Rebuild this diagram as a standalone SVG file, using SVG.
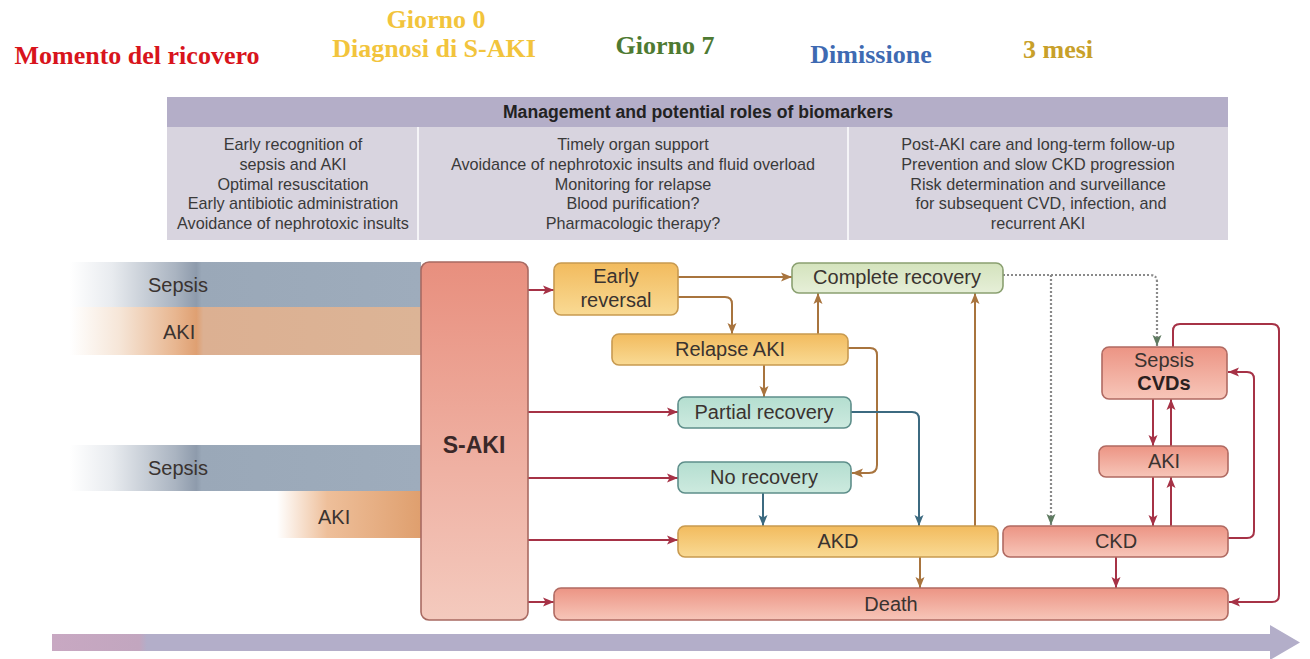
<svg xmlns="http://www.w3.org/2000/svg" width="1310" height="659" viewBox="0 0 1310 659">
<style>
.title{font-family:"Liberation Serif","Times New Roman",serif;font-weight:bold;font-size:26px;text-anchor:middle}
.hdr{font-family:"Liberation Sans",Arial,sans-serif;font-weight:bold;font-size:17.6px;fill:#222;text-anchor:middle}
.body{font-family:"Liberation Sans",Arial,sans-serif;font-size:16.2px;fill:#3a3a3a;text-anchor:middle}
.lbl{font-family:"Liberation Sans",Arial,sans-serif;font-size:20px;fill:#3a3330;text-anchor:middle}
.bold{font-weight:bold}
.yel{fill:url(#gYel);stroke:#c89a50;stroke-width:1.6}
.grn{fill:url(#gGrn);stroke:#8aa070;stroke-width:1.6}
.tea{fill:url(#gTea);stroke:#5e8e8a;stroke-width:1.6}
.red{fill:url(#gRed);stroke:#b06a62;stroke-width:1.6}
.cr{fill:none;stroke:#a63246;stroke-width:2}
.cb{fill:none;stroke:#a8743e;stroke-width:2}
.ct{fill:none;stroke:#3c6a80;stroke-width:2}
.cd{fill:none;stroke:#8a8a8a;stroke-width:2.2;stroke-dasharray:2 2}
</style>
<defs>
<linearGradient id="gYel" x1="0" y1="0" x2="0" y2="1"><stop offset="0" stop-color="#f2bb5e"/><stop offset="1" stop-color="#f9da94"/></linearGradient>
<linearGradient id="gGrn" x1="0" y1="0" x2="0" y2="1"><stop offset="0" stop-color="#d4e3bd"/><stop offset="1" stop-color="#e6efd8"/></linearGradient>
<linearGradient id="gTea" x1="0" y1="0" x2="0" y2="1"><stop offset="0" stop-color="#b4ded0"/><stop offset="1" stop-color="#cdeadf"/></linearGradient>
<linearGradient id="gRed" x1="0" y1="0" x2="0" y2="1"><stop offset="0" stop-color="#ec9484"/><stop offset="1" stop-color="#f7c6b9"/></linearGradient>
<linearGradient id="gSaki" x1="0" y1="0" x2="0" y2="1"><stop offset="0" stop-color="#e88f7e"/><stop offset="1" stop-color="#f4cabe"/></linearGradient>
<linearGradient id="gSep" gradientUnits="userSpaceOnUse" x1="70" y1="0" x2="421" y2="0"><stop offset="0" stop-color="#ffffff"/><stop offset="0.12" stop-color="#e8ebef"/><stop offset="0.3" stop-color="#aab4c1"/><stop offset="0.36" stop-color="#8e9bac"/><stop offset="0.375" stop-color="#9aa8b8"/><stop offset="1" stop-color="#9eacbc"/></linearGradient>
<linearGradient id="gAki" gradientUnits="userSpaceOnUse" x1="70" y1="0" x2="421" y2="0"><stop offset="0" stop-color="#ffffff"/><stop offset="0.14" stop-color="#f6e6d8"/><stop offset="0.3" stop-color="#e8b690"/><stop offset="0.36" stop-color="#dfa072"/><stop offset="0.38" stop-color="#dcb092"/><stop offset="1" stop-color="#dcb496"/></linearGradient>
<linearGradient id="gAki2" gradientUnits="userSpaceOnUse" x1="277" y1="0" x2="421" y2="0"><stop offset="0" stop-color="#ffffff"/><stop offset="0.35" stop-color="#eebf9a"/><stop offset="1" stop-color="#df9f6e"/></linearGradient>
<linearGradient id="gTime" gradientUnits="userSpaceOnUse" x1="52" y1="0" x2="1300" y2="0"><stop offset="0" stop-color="#c8a8c2"/><stop offset="0.07" stop-color="#c2a6bf"/><stop offset="0.076" stop-color="#b3aec9"/><stop offset="1" stop-color="#b3aec9"/></linearGradient>
<marker id="aR" markerUnits="userSpaceOnUse" markerWidth="12" markerHeight="10" refX="11" refY="5" orient="auto"><path d="M0,0.5 L11,5 L0,9.5 L2.5,5 z" fill="#a63246"/></marker>
<marker id="aB" markerUnits="userSpaceOnUse" markerWidth="12" markerHeight="10" refX="11" refY="5" orient="auto"><path d="M0,0.5 L11,5 L0,9.5 L2.5,5 z" fill="#a8743e"/></marker>
<marker id="aT" markerUnits="userSpaceOnUse" markerWidth="12" markerHeight="10" refX="11" refY="5" orient="auto"><path d="M0,0.5 L11,5 L0,9.5 L2.5,5 z" fill="#3c6a80"/></marker>
<marker id="aG" markerUnits="userSpaceOnUse" markerWidth="12" markerHeight="10" refX="11" refY="5" orient="auto"><path d="M0,0.5 L11,5 L0,9.5 L2.5,5 z" fill="#5e7a60"/></marker>
</defs>
<rect x="0" y="0" width="1310" height="659" fill="#ffffff"/>

<g id="timeline-titles">
<text class="title" x="137" y="64" fill="#d8141c">Momento del ricovero</text>
<text class="title" x="436" y="28" fill="#f2c43c">Giorno 0</text>
<text class="title" x="434" y="57" fill="#f2c43c">Diagnosi di S-AKI</text>
<text class="title" x="665" y="54" fill="#4e7a32">Giorno 7</text>
<text class="title" x="871" y="63" fill="#3e6ab2">Dimissione</text>
<text class="title" x="1058" y="58" fill="#c8a02a">3 mesi</text>
</g>

<g id="management-table">
<rect x="167" y="97" width="1061" height="30" fill="#b4aec8"/>
<rect x="167" y="127" width="1061" height="113" fill="#d8d4df"/>
<line x1="418" y1="127" x2="418" y2="240" stroke="#ffffff" stroke-width="1.5"/>
<line x1="848" y1="127" x2="848" y2="240" stroke="#ffffff" stroke-width="1.5"/>
<text class="hdr" x="698" y="118">Management and potential roles of biomarkers</text>
<text class="body" x="293" y="150">Early recognition of</text>
<text class="body" x="293" y="170">sepsis and AKI</text>
<text class="body" x="293" y="190">Optimal resuscitation</text>
<text class="body" x="293" y="209">Early antibiotic administration</text>
<text class="body" x="293" y="229">Avoidance of nephrotoxic insults</text>
<text class="body" x="633" y="150">Timely organ support</text>
<text class="body" x="633" y="170">Avoidance of nephrotoxic insults and fluid overload</text>
<text class="body" x="633" y="190">Monitoring for relapse</text>
<text class="body" x="633" y="209">Blood purification?</text>
<text class="body" x="633" y="229">Pharmacologic therapy?</text>
<text class="body" x="1038" y="150">Post-AKI care and long-term follow-up</text>
<text class="body" x="1038" y="170">Prevention and slow CKD progression</text>
<text class="body" x="1038" y="190">Risk determination and surveillance</text>
<text class="body" x="1041" y="209">for subsequent CVD, infection, and</text>
<text class="body" x="1038" y="229">recurrent AKI</text>
</g>

<g id="input-bars">
<rect x="70" y="262" width="351" height="45" fill="url(#gSep)"/>
<rect x="70" y="307" width="351" height="48" fill="url(#gAki)"/>
<rect x="70" y="445" width="351" height="46" fill="url(#gSep)"/>
<rect x="277" y="491" width="144" height="47" fill="url(#gAki2)"/>
<text class="lbl" x="148" y="292" style="text-anchor:start">Sepsis</text>
<text class="lbl" x="163" y="339" style="text-anchor:start">AKI</text>
<text class="lbl" x="148" y="475" style="text-anchor:start">Sepsis</text>
<text class="lbl" x="318" y="524" style="text-anchor:start">AKI</text>
</g>

<g id="timeline-arrow">
<path d="M52,634 H1270 V625 L1300,642.5 L1270,660 V651 H52 z" fill="url(#gTime)"/>
</g>

<g id="connectors">
<path class="cr" d="M528,290 H554" marker-end="url(#aR)"/>
<path class="cr" d="M528,412 H678" marker-end="url(#aR)"/>
<path class="cr" d="M528,478 H678" marker-end="url(#aR)"/>
<path class="cr" d="M528,540 H678" marker-end="url(#aR)"/>
<path class="cr" d="M528,602 H554" marker-end="url(#aR)"/>
<path class="cr" d="M1153,399 V446" marker-end="url(#aR)"/>
<path class="cr" d="M1171,446 V399" marker-end="url(#aR)"/>
<path class="cr" d="M1153,477 V526" marker-end="url(#aR)"/>
<path class="cr" d="M1171,526 V477" marker-end="url(#aR)"/>
<path class="cr" d="M1228,538 H1247 Q1254,538 1254,531 V379 Q1254,372 1247,372 H1228" marker-end="url(#aR)"/>
<path class="cr" d="M1173,347 V331 Q1173,324 1180,324 H1272 Q1279,324 1279,331 V595 Q1279,602 1272,602 H1229" marker-end="url(#aR)"/>
<path class="cr" d="M1116,557 V588" marker-end="url(#aR)"/>
<path class="cb" d="M678,277 H792" marker-end="url(#aB)"/>
<path class="cb" d="M678,297 H725 Q732,297 732,304 V334" marker-end="url(#aB)"/>
<path class="cb" d="M818,334 V293" marker-end="url(#aB)"/>
<path class="cb" d="M764,365 V397" marker-end="url(#aB)"/>
<path class="cb" d="M848,348 H870 Q877,348 877,355 V465 Q877,473 869,473 H852" marker-end="url(#aB)"/>
<path class="cb" d="M975,526 V293" marker-end="url(#aB)"/>
<path class="cb" d="M920,557 V588" marker-end="url(#aB)"/>
<path class="ct" d="M851,412 H912 Q919,412 919,419 V526" marker-end="url(#aT)"/>
<path class="ct" d="M763,493 V526" marker-end="url(#aT)"/>
<path class="cd" d="M1003,275 H1150 Q1157,275 1157,282 V346" marker-end="url(#aG)"/>
<path class="cd" d="M1051,275 V525" marker-end="url(#aG)"/>
</g>

<g id="node-saki">
<rect x="421" y="262" width="107" height="358" rx="8" fill="url(#gSaki)" stroke="#a86a62" stroke-width="1.6"/>
<text class="lbl bold" x="474" y="453" style="font-size:23px;fill:#3a2828">S-AKI</text>
</g>
<g id="node-early-reversal">
<rect class="yel" x="554" y="263" width="124" height="52" rx="7"/>
<text class="lbl" x="616" y="283">Early</text>
<text class="lbl" x="616" y="307">reversal</text>
</g>
<g id="node-complete-recovery">
<rect class="grn" x="792" y="263" width="211" height="30" rx="7"/>
<text class="lbl" x="897" y="284">Complete recovery</text>
</g>
<g id="node-relapse-aki">
<rect class="yel" x="612" y="334" width="236" height="31" rx="7"/>
<text class="lbl" x="730" y="356">Relapse AKI</text>
</g>
<g id="node-partial-recovery">
<rect class="tea" x="678" y="397" width="173" height="31" rx="7"/>
<text class="lbl" x="764" y="419">Partial recovery</text>
</g>
<g id="node-no-recovery">
<rect class="tea" x="678" y="462" width="173" height="31" rx="7"/>
<text class="lbl" x="764" y="484">No recovery</text>
</g>
<g id="node-akd">
<rect class="yel" x="678" y="526" width="320" height="31" rx="7"/>
<text class="lbl" x="838" y="548">AKD</text>
</g>
<g id="node-ckd">
<rect class="red" x="1003" y="526" width="225" height="31" rx="7"/>
<text class="lbl" x="1116" y="548">CKD</text>
</g>
<g id="node-death">
<rect class="red" x="554" y="588" width="674" height="32" rx="7"/>
<text class="lbl" x="891" y="611">Death</text>
</g>
<g id="node-sepsis-cvds">
<rect class="red" x="1102" y="347" width="125" height="52" rx="7"/>
<text class="lbl" x="1164" y="367">Sepsis</text>
<text class="lbl bold" x="1164" y="390" style="fill:#2a2020">CVDs</text>
</g>
<g id="node-aki-right">
<rect class="red" x="1099" y="446" width="129" height="31" rx="7"/>
<text class="lbl" x="1164" y="468">AKI</text>
</g>
</svg>
